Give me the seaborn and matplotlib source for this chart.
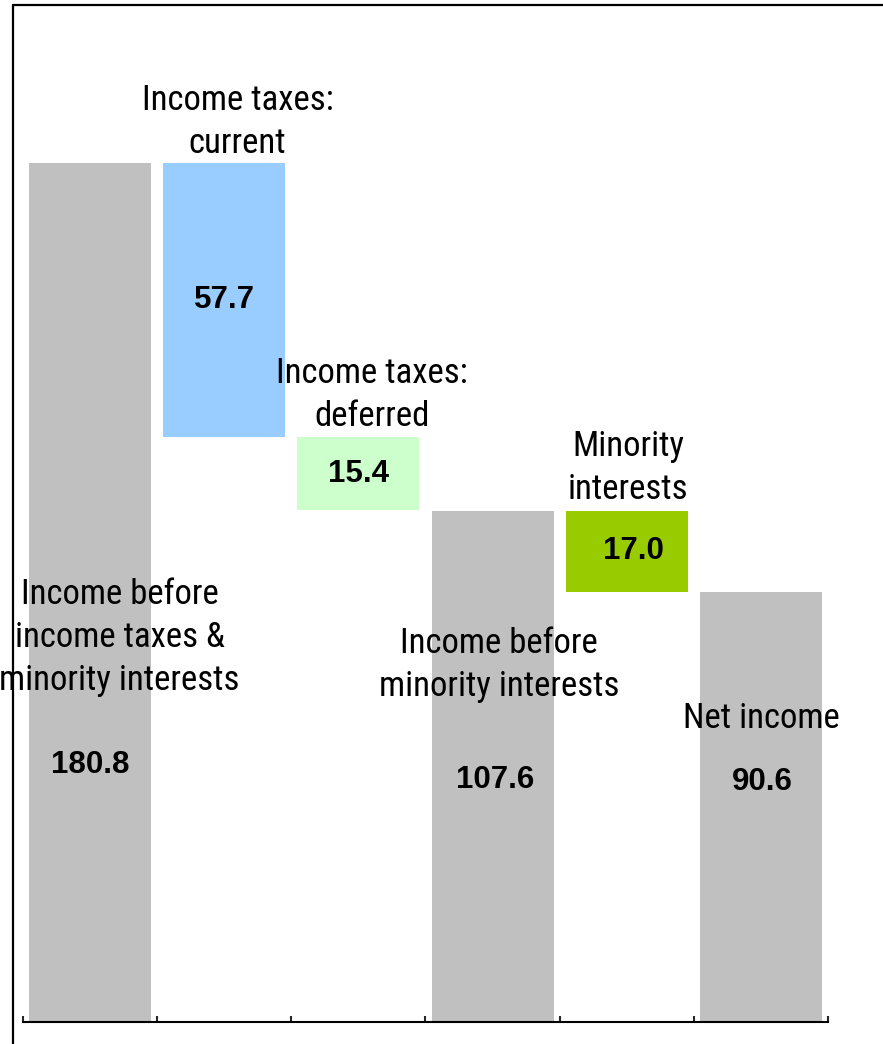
import matplotlib
matplotlib.use("Agg")
import matplotlib.pyplot as plt
from matplotlib import font_manager as fm
import seaborn as sns
import pandas as pd
import numpy as np
from matplotlib.lines import Line2D

# === data ===
categories = ["Income before\nincome taxes &\nminority interests",
              "Income taxes:\ncurrent",
              "Income taxes:\ndeferred",
              "Income before\nminority interests",
              "Minority\ninterests",
              "Net income"]
values = [180.8, -57.7, -15.4, 107.6, -17.0, 90.6]
is_total = [True, False, False, True, False, True]
value_text = ["180.8", "57.7", "15.4", "107.6", "17.0", "90.6"]
colors = ["#C0C0C0", "#99CCFF", "#CCFFCC", "#C0C0C0", "#99CC00", "#C0C0C0"]

# waterfall bottoms / tops
bottoms, tops = [], []
running = 0
for v, tot in zip(values, is_total):
    if tot:
        bottoms.append(0)
        tops.append(v)
        running = v
    else:
        bottoms.append(running + v)
        tops.append(running)
        running = running + v

df = pd.DataFrame({"cat": categories, "top": tops, "bottom": bottoms})

# label placement (x offset from bar, y in data units)
label_pos = [(0.22, 81.0), (0.10, 189.4), (0.10, 132.0), (0.05, 75.1), (0.01, 116.6), (0.0, 64.0)]
num_pos = [(0.0, 54.1), (0.0, None), (0.0, None), (0.02, 50.9), (0.05, None), (0.01, 50.5)]

# narrow font lookup (Arial Narrow look-alikes)
all_fonts = {f.split("/")[-1].lower(): f for f in fm.findSystemFonts()}
narrow_names = ["LiberationSansNarrow-Regular.ttf", "ArialNarrow.ttf", "RobotoCondensed-Regular.ttf",
                "NotoSans-Condensed.ttf", "PTSansNarrow-Regular.ttf", "ArchivoNarrow-Regular.ttf",
                "IBMPlexSansCondensed-Regular.ttf", "FiraSansCondensed-Regular.ttf",
                "AsapCondensed-Regular.ttf", "DejaVuSansCondensed.ttf"]
narrow_file = next((all_fonts[n.lower()] for n in narrow_names if n.lower() in all_fonts), None)
bold_file = all_fonts.get("liberationsans-bold.ttf")

if narrow_file:
    label_font = fm.FontProperties(fname=narrow_file, size=25)
else:
    label_font = fm.FontProperties(family="Liberation Sans", size=21)
if bold_file:
    num_font = fm.FontProperties(fname=bold_file, size=22.5)
else:
    num_font = fm.FontProperties(family="DejaVu Sans", weight="bold", size=19)

sns.set_style("white")
fig = plt.figure(figsize=(8.83, 10.44), dpi=100)
ax = fig.add_axes([23 / 883, 22 / 1044, 805 / 883, 950 / 1044])

sns.barplot(data=df, x="cat", y="top", hue="cat", palette=colors,
            legend=False, width=0.91, ax=ax, saturation=1)

for p, b, t in zip(ax.patches, bottoms, tops):
    p.set_y(b)
    p.set_height(t - b)
    p.set_linewidth(0)

ax.set_xlim(-0.5, 5.5)
ax.set_ylim(0, 200)
ax.set_xlabel("")
ax.set_ylabel("")
ax.set_xticks(np.arange(-0.5, 6, 1))
ax.set_xticklabels([])
ax.set_yticks([])
ax.tick_params(axis="x", direction="in", length=4, width=1.5, bottom=True)
for s in ["left", "right", "top"]:
    ax.spines[s].set_visible(False)
ax.spines["bottom"].set_linewidth(1.5)
ax.spines["bottom"].set_color("black")

for i, cat in enumerate(categories):
    dx, y = label_pos[i]
    ax.text(i + dx, y, cat, ha="center", va="center", fontproperties=label_font,
            linespacing=1.38, color="black", clip_on=False)
    ndx, ny = num_pos[i]
    if ny is None:
        ny = (bottoms[i] + tops[i]) / 2
    ax.text(i + ndx, ny, value_text[i], ha="center", va="center",
            fontproperties=num_font, color="black")

# outer chart frame (top and left visible)
fig.add_artist(Line2D([13 / 883, 13 / 883], [0, 1 - 5 / 1044], transform=fig.transFigure,
                      color="black", lw=1.6))
fig.add_artist(Line2D([13 / 883, 1], [1 - 5 / 1044, 1 - 5 / 1044], transform=fig.transFigure,
                      color="black", lw=1.6))

fig.savefig("out.png", dpi=100)
